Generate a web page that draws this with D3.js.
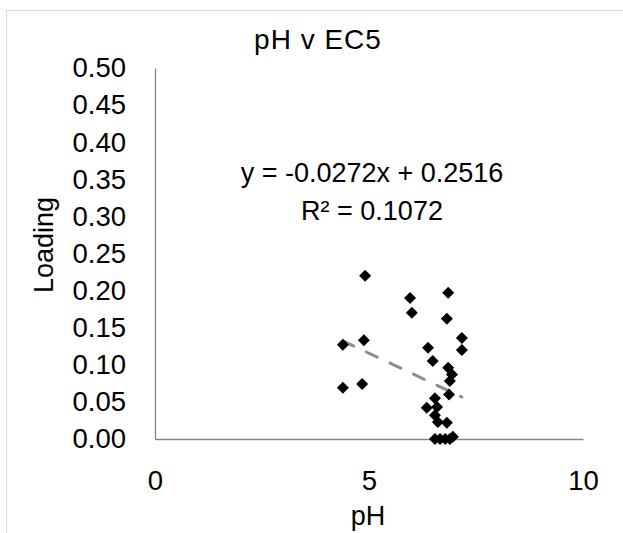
<!DOCTYPE html>
<html>
<head>
<meta charset="utf-8">
<script src="https://cdn.jsdelivr.net/npm/d3@7"></script>
<style>
  body { margin: 0; background: #fff; }
  svg text { font-family: "Liberation Sans", Arial, sans-serif; fill: #000; }
</style>
</head>
<body>
<svg id="chart" width="623" height="533"></svg>
<script>
// pH values and loadings
const phValues = [4.39, 4.39, 4.84, 4.88, 4.91, 5.96, 6.00, 6.38, 6.49, 6.35,
	6.54, 6.59, 6.54, 6.61, 6.82, 6.85, 6.82, 7.17, 7.17, 6.85,
	6.94, 6.89, 6.87, 6.54, 6.66, 6.78, 6.89, 6.96];
const loadings = [0.127, 0.069, 0.074, 0.133, 0.220, 0.190, 0.170, 0.123, 0.105, 0.042,
	0.055, 0.043, 0.032, 0.023, 0.022, 0.197, 0.162, 0.136, 0.120, 0.096,
	0.087, 0.078, 0.060, 0.000, 0.000, 0.000, 0.000, 0.003];
const xTicks = [0, 5, 10];
const yTicks = [0, 0.05, 0.10, 0.15, 0.20, 0.25, 0.30, 0.35, 0.40, 0.45, 0.50];
// trendline from the label
const slope = -0.0272;
const intercept = 0.2516;

let svg = d3.select('#chart');

//Chart frame
svg.append('rect')
	.attr('x', 6.5)
	.attr('y', 10.5)
	.attr('width', 700)
	.attr('height', 600)
	.style('fill', 'none')
	.style('stroke', '#d9d9d9');

const x = d3.scaleLinear().domain([0, 10]).range([155, 583]);
const y = d3.scaleLinear().domain([0, 0.5]).range([439, 68]);

//Axes
const xAxis = svg.append('g')
	.attr('transform', `translate(0,${y(0)})`)
	.call(d3.axisBottom(x).tickValues(xTicks).tickSize(0).tickPadding(31).tickFormat(d3.format('d')));
const yAxis = svg.append('g')
	.attr('transform', `translate(${x(0)},0)`)
	.call(d3.axisLeft(y).tickValues(yTicks).tickSize(0).tickPadding(29).tickFormat(d3.format('.2f')));

[xAxis, yAxis].forEach(a => {
	a.select('.domain').style('stroke', '#868686').style('stroke-width', 1.3);
	a.selectAll('text').style('font-size', '27.5px').style('fill', '#000')
		.style('font-family', '"Liberation Sans", Arial, sans-serif');
});
xAxis.selectAll('text').attr('dy', '0.71em');

//Trendline over the data's x range
const xr = d3.extent(phValues);
const trend = xr.map(v => ({x: v, y: slope * v + intercept}));
svg.append('path')
	.attr('d', d3.line().x(d => x(d.x)).y(d => y(d.y))(trend))
	.style('fill', 'none')
	.style('stroke', '#8c8c8c')
	.style('stroke-width', 3)
	.style('stroke-linecap', 'round')
	.style('stroke-dasharray', '12,14');

//Points
const diamond = d3.symbol().type(d3.symbolSquare).size(72);
svg.selectAll('path.pt')
	.data(phValues)
	.enter()
	.append('path')
	.attr('class', 'pt')
	.attr('d', diamond)
	.attr('transform', (d, i) => `translate(${x(d)},${y(loadings[i])}) rotate(45)`)
	.style('fill', '#000');

//Title and labels
svg.append('text')
	.attr('x', 318).attr('y', 49)
	.attr('text-anchor', 'middle')
	.style('font-size', '28px')
	.style('letter-spacing', '1px')
	.text('pH v EC5');

svg.append('text')
	.attr('x', 372).attr('y', 182)
	.attr('text-anchor', 'middle')
	.style('font-size', '27px')
	.text('y = -0.0272x + 0.2516');

svg.append('text')
	.attr('x', 372).attr('y', 220)
	.attr('text-anchor', 'middle')
	.style('font-size', '27px')
	.text('R² = 0.1072');

svg.append('text')
	.attr('transform', 'translate(53,245) rotate(-90)')
	.attr('text-anchor', 'middle')
	.style('font-size', '27px')
	.text('Loading');

svg.append('text')
	.attr('x', 368).attr('y', 525)
	.attr('text-anchor', 'middle')
	.style('font-size', '27px')
	.text('pH');
</script>
</body>
</html>
